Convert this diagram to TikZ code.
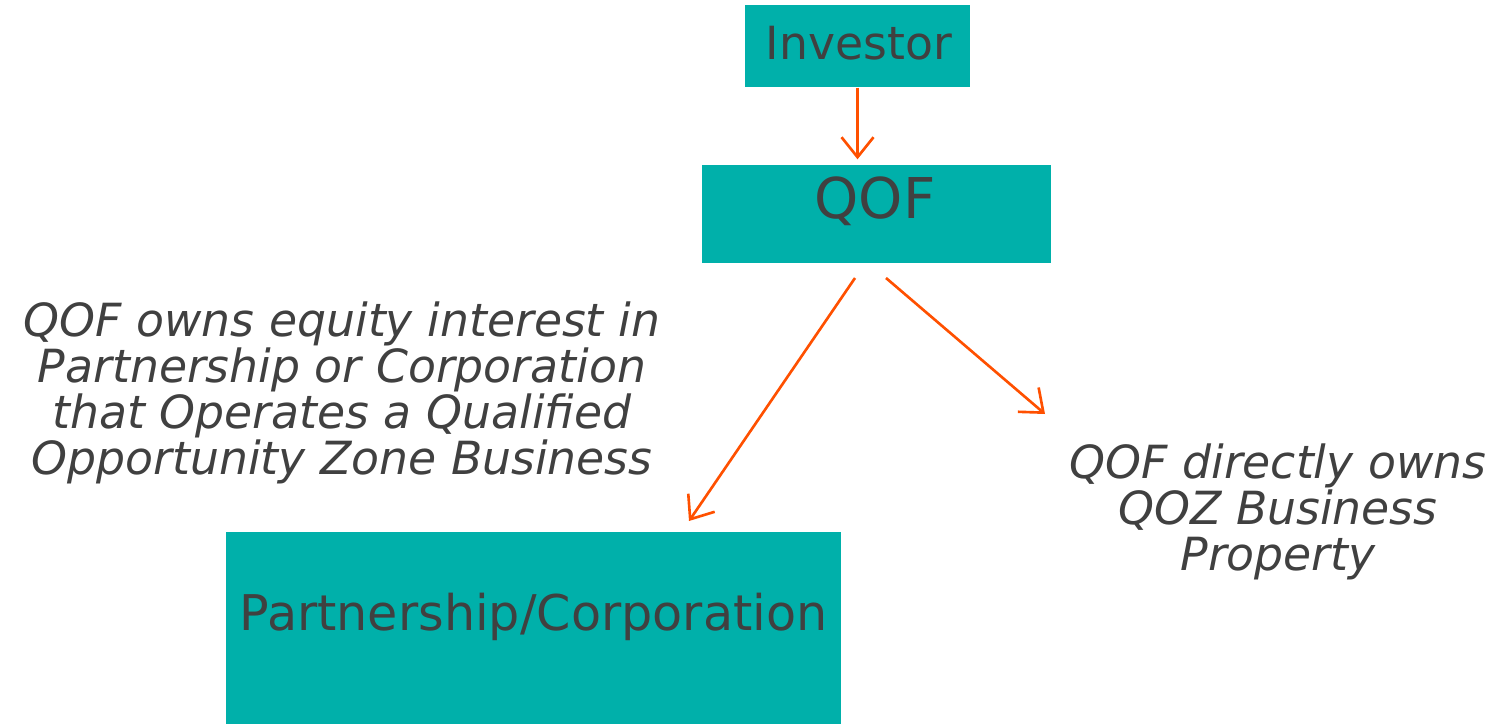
\documentclass[tikz,border=0pt]{standalone}
\usepackage{fontspec}
\setmainfont{DejaVu Sans}
\usetikzlibrary{arrows.meta}
\usetikzlibrary{positioning}

\definecolor{boxteal}{HTML}{00B0AA}
\definecolor{linkorange}{HTML}{FF5000}
\definecolor{textgrey}{HTML}{404040}

\tikzset{
  box/.style={fill=boxteal, draw=none, inner sep=0pt},
  link/.style={draw=linkorange, line width=0.75pt, -{Straight Barb[length=2mm,width=3.2mm]}},
  note/.style={text=textgrey, align=center, font=\fontsize{13}{13.1}\selectfont\itshape}
}

\begin{document}
\begin{tikzpicture}
      \useasboundingbox (0, 0) rectangle (14.99, 7.24);
      \node [box, minimum width=2.25cm, minimum height=0.82cm] (investor) at (8.575, 6.78) {};
      \node [text=textgrey, font=\fontsize{13}{15}\selectfont, anchor=base] (investortext) at (8.59, 6.64) {Investor};
      \node [box, minimum width=3.49cm, minimum height=0.98cm] (qof) at (8.765, 5.10) {};
      \node [text=textgrey, font=\fontsize{16}{18}\selectfont, anchor=base] (qoftext) at (8.75, 5.06) {QOF};
      \node [box, minimum width=6.15cm, minimum height=1.92cm] (partner) at (5.335, 0.96) {};
      \node [text=textgrey, font=\fontsize{14}{16}\selectfont, anchor=base] (partnertext) at (5.335, 0.94) {Partnership/Corporation};
      \node [note] (equitynote) at (3.42, 3.31) {QOF owns equity interest in\\Partnership or Corporation\\that Operates a Qualified\\Opportunity Zone Business};
      \node [note] (directnote) at (12.78, 2.12) {QOF directly owns\\QOZ Business\\Property};
      \coordinate (leftstart) at (8.55, 4.46);
      \coordinate (leftend) at (6.89, 2.03);
      \coordinate (rightstart) at (8.86, 4.46);
      \coordinate (rightend) at (10.45, 3.10);
      \draw [link, shorten >=0.5mm] (investor.south) -- (investor.south |- qof.north);
      \draw [link] (leftstart) -- (leftend);
      \draw [link] (rightstart) -- (rightend);
\end{tikzpicture}
\end{document}
